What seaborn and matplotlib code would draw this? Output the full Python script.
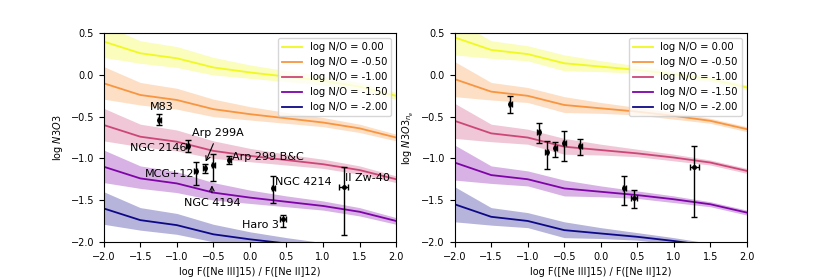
import matplotlib
matplotlib.use('Agg')
import matplotlib.pyplot as plt
import numpy as np
import seaborn as sns

# model grid: log F([Ne III]15)/F([Ne II]12)
x_model = [-2.0, -1.5, -1.0, -0.5, 0.0, 0.5, 1.0, 1.5, 2.0]
no_labels = ['0.00', '-0.50', '-1.00', '-1.50', '-2.00']

# left panel: log N3O3 for each log N/O
left_no_0 = [0.40, 0.26, 0.20, 0.09, 0.03, -0.02, -0.07, -0.14, -0.25]
left_no_05 = [-0.10, -0.24, -0.30, -0.41, -0.47, -0.52, -0.57, -0.64, -0.75]
left_no_10 = [-0.60, -0.74, -0.80, -0.91, -0.97, -1.02, -1.07, -1.14, -1.25]
left_no_15 = [-1.10, -1.24, -1.30, -1.41, -1.47, -1.52, -1.57, -1.64, -1.75]
left_no_20 = [-1.60, -1.74, -1.80, -1.91, -1.97, -2.02, -2.07, -2.14, -2.25]
left_band_hi = [0.20, 0.15, 0.14, 0.12, 0.09, 0.07, 0.06, 0.05, 0.04]
left_band_lo = [0.19, 0.12, 0.11, 0.09, 0.07, 0.06, 0.05, 0.05, 0.04]

# right panel: log N3O3_ne
right_no_0 = [0.45, 0.30, 0.25, 0.14, 0.10, 0.06, 0.01, -0.05, -0.15]
right_no_05 = [-0.05, -0.20, -0.25, -0.36, -0.40, -0.44, -0.49, -0.55, -0.65]
right_no_10 = [-0.55, -0.70, -0.75, -0.86, -0.90, -0.94, -0.99, -1.05, -1.15]
right_no_15 = [-1.05, -1.20, -1.25, -1.36, -1.40, -1.44, -1.49, -1.55, -1.65]
right_no_20 = [-1.55, -1.70, -1.75, -1.86, -1.90, -1.94, -1.99, -2.05, -2.15]
right_band_hi = [0.21, 0.11, 0.10, 0.10, 0.07, 0.05, 0.04, 0.03, 0.03]
right_band_lo = [0.21, 0.10, 0.08, 0.09, 0.06, 0.04, 0.04, 0.03, 0.03]

# observed galaxies
gal_names = ['M83', 'NGC 2146', 'MCG+12', 'Arp 299A', 'NGC 4194',
             'Arp 299 B&C', 'NGC 4214', 'Haro 3', 'II Zw-40']
gal_x = [-1.24, -0.85, -0.74, -0.62, -0.50, -0.28, 0.32, 0.45, 1.28]
gal_xerr = [0.02, 0.02, 0.02, 0.02, 0.02, 0.02, 0.02, 0.04, 0.06]
left_y = [-0.535, -0.85, -1.15, -1.12, -1.08, -1.02, -1.35, -1.73, -1.345]
left_yerr_lo = [0.065, 0.075, 0.17, 0.055, 0.19, 0.05, 0.19, 0.09, 0.57]
left_yerr_hi = [0.065, 0.075, 0.11, 0.055, 0.13, 0.05, 0.14, 0.05, 0.24]
right_y = [-0.35, -0.68, -0.92, -0.88, -0.81, -0.85, -1.35, -1.47, -1.10]
right_yerr_lo = [0.11, 0.13, 0.21, 0.10, 0.22, 0.11, 0.21, 0.13, 0.60]
right_yerr_hi = [0.10, 0.10, 0.13, 0.08, 0.14, 0.08, 0.14, 0.09, 0.25]

plt.rcParams['font.size'] = 7
colors = matplotlib.colormaps['plasma'](np.linspace(1, 0, 5))


def draw_panel(ax, models, band_hi, band_lo, y, ylo, yhi, ylabel):
    xm = np.array(x_model)
    for vals, lab, c in zip(models, no_labels, colors):
        vals = np.array(vals)
        ax.fill_between(xm, vals - np.array(band_lo), vals + np.array(band_hi),
                        color=c, alpha=0.3, lw=0)
        sns.lineplot(x=xm, y=vals, color=c, lw=1.3, label=f'log N/O = {lab}', ax=ax)
    ax.errorbar(gal_x, y, xerr=gal_xerr, yerr=[ylo, yhi], fmt='o', ms=2.5,
                color='k', ecolor='k', elinewidth=1.0, capsize=2.2, capthick=1.0)
    ax.set_xlim(-2, 2)
    ax.set_ylim(-2, 0.5)
    ax.set_xticks(np.arange(-2, 2.01, 0.5))
    ax.set_yticks(np.arange(-2, 0.51, 0.5))
    ax.set_xlabel('log F([Ne III]15) / F([Ne II]12)')
    ax.set_ylabel(ylabel)
    ax.legend(loc='upper right', fontsize=7.2)


fig, ax = plt.subplots(1, 2, figsize=(8.3, 2.77), dpi=100)
fig.subplots_adjust(bottom=0.127, top=0.88, left=0.125, right=0.9, wspace=0.2)

draw_panel(ax[0], [left_no_0, left_no_05, left_no_10, left_no_15, left_no_20],
           left_band_hi, left_band_lo, left_y, left_yerr_lo, left_yerr_hi,
           r'log $N3O3$')
draw_panel(ax[1], [right_no_0, right_no_05, right_no_10, right_no_15, right_no_20],
           right_band_hi, right_band_lo, right_y, right_yerr_lo, right_yerr_hi,
           r'log $N3O3_{n_e}$')

fs = 8
a = ax[0]
a.text(-1.20, -0.39, 'M83', fontsize=fs, ha='center', va='center')
a.text(-0.87, -0.87, 'NGC 2146', fontsize=fs, ha='right', va='center')
a.text(-0.76, -1.19, 'MCG+12', fontsize=fs, ha='right', va='center')
a.text(-0.25, -0.98, 'Arp 299 B&C', fontsize=fs, ha='left', va='center')
a.text(0.34, -1.28, 'NGC 4214', fontsize=fs, ha='left', va='center')
a.text(1.30, -1.23, 'II Zw-40', fontsize=fs, ha='left', va='center')
a.text(0.39, -1.80, 'Haro 3', fontsize=fs, ha='right', va='center')
a.annotate('Arp 299A', xy=(-0.62, -1.07), xytext=(-0.44, -0.70), fontsize=fs,
           ha='center', va='center', arrowprops=dict(arrowstyle='->', lw=0.8, color='k'))
a.annotate('NGC 4194', xy=(-0.52, -1.29), xytext=(-0.52, -1.54), fontsize=fs,
           ha='center', va='center', arrowprops=dict(arrowstyle='->', lw=0.8, color='k'))

plt.savefig('out.png', dpi=100)
